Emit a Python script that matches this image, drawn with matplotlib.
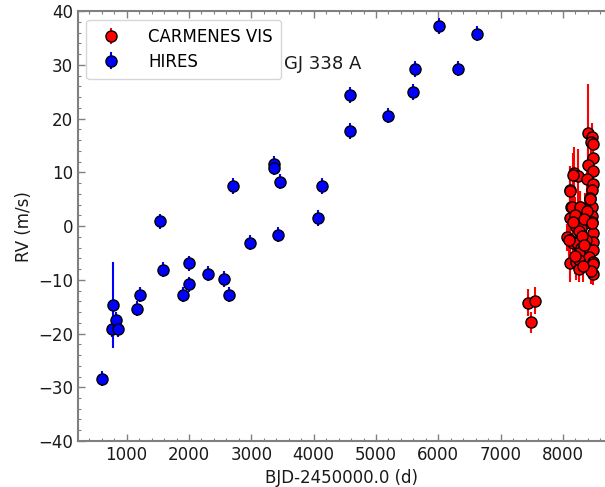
import numpy as np
import matplotlib
matplotlib.use('Agg')
import matplotlib.pyplot as plt
from matplotlib.ticker import AutoMinorLocator

# HIRES radial velocities
hires_t = [604, 764, 776, 835, 856, 1166, 1220, 1535, 1583, 1899, 2000, 2000,
           2306, 2562, 2649, 2701, 2979, 3356, 3356, 3420, 3468, 4071, 4131,
           4591, 4591, 5189, 5590, 5628, 6008, 6319, 6623]
hires_rv = [-28.4, -19.2, -14.6, -17.4, -19.2, -15.4, -12.8, 0.9, -8.1, -12.8,
            -6.9, -10.8, -8.9, -9.9, -12.8, 7.4, -3.1, 11.5, 10.9, -1.6, 8.3,
            1.5, 7.5, 24.4, 17.7, 20.5, 24.9, 29.2, 37.3, 29.3, 35.8]
hires_err = [1.4, 1.5, 8.0, 1.4, 1.4, 1.4, 1.4, 1.4, 1.4, 1.4,
             1.4, 1.4, 1.4, 1.5, 1.4, 1.5, 1.4, 1.5, 1.4, 1.4, 1.4,
             1.5, 1.5, 1.4, 1.4, 1.4, 1.5, 1.5, 1.5, 1.4, 1.4]

# CARMENES VIS radial velocities
carm_t = [7442, 7545, 7490,
          8395, 8459, 8448, 8475, 8475, 8405, 8475, 8175, 8245, 8380, 8486,
          8114, 8467, 8430, 8459, 8136, 8270, 8355, 8175, 8463, 8120, 8245,
          8459, 8350, 8210, 8285, 8250, 8475, 8070, 8120, 8165, 8230, 8486,
          8370, 8285, 8405, 8486, 8260, 8420, 8120, 8205, 8250, 8475, 8475,
          8250, 8486, 8444, 8165, 8110, 8430, 8150, 8280, 8380, 8200, 8340,
          8165, 8459, 8300, 8330, 8190, 8100, 8320]
carm_rv = [-14.3, -13.9, -17.9,
           17.4, 16.6, 15.7, 15.2, 12.7, 11.4, 10.3, 9.8, 9.4, 8.8, 7.8,
           6.7, 6.7, 5.3, 3.6, 3.6, 3.5, 3.1, 2.2, 1.9, 1.5, 0.8,
           0.8, 0.5, -0.1, -0.4, -0.9, -1.2, -2.1, -2.6, -3.2, -3.1, -2.9,
           -2.6, -4.0, -4.5, -4.5, -5.1, -5.7, -6.9, -6.6, -6.3, -6.6, -7.1,
           -8.0, -8.9, -8.3, 9.6, 6.6, 5.0, 3.5, 3.5, 2.9, 2.0, 1.4,
           0.8, 0.5, -1.8, -3.5, -5.5, -2.5, -7.5]
carm_err = [2.5, 2.5, 2.0,
            9.0, 2.5, 2.5, 2.0, 2.5, 3.0, 2.5, 5.0, 5.0, 3.0, 2.5,
            4.5, 2.5, 3.0, 2.5, 3.5, 3.0, 3.0, 3.5, 2.5, 4.0, 3.5,
            2.5, 3.0, 3.5, 3.0, 3.0, 2.5, 2.5, 3.5, 3.5, 3.0, 2.5,
            3.0, 3.0, 3.0, 2.5, 3.5, 3.0, 3.5, 3.5, 3.5, 2.5, 2.5,
            2.5, 2.0, 2.5, 4.0, 4.5, 3.0, 3.5, 3.0, 3.0, 3.5, 3.0,
            3.5, 2.5, 3.0, 3.0, 3.5, 3.5, 3.0]

plt.rcParams['font.size'] = 12
fig = plt.figure(figsize=(6.05, 4.87), dpi=100)
ax = fig.add_axes([0.129, 0.0945, 0.871, 0.8825])

ax.errorbar(carm_t, carm_rv, yerr=carm_err, fmt='o', color='red', ecolor='red',
            mec='black', mew=1.0, ms=8, elinewidth=1.5, capsize=0,
            label='CARMENES VIS')
ax.errorbar(hires_t, hires_rv, yerr=hires_err, fmt='o', color='blue', ecolor='blue',
            mec='black', mew=1.0, ms=8, elinewidth=1.5, capsize=0,
            label='HIRES')

ax.set_xlim(220, 8674)
ax.set_ylim(-40, 40)
ax.set_xticks(np.arange(1000, 8001, 1000))
ax.set_yticks(np.arange(-40, 41, 10))
ax.xaxis.set_minor_locator(AutoMinorLocator(5))
ax.yaxis.set_minor_locator(AutoMinorLocator(5))
ax.tick_params(which='both', direction='in', top=True, right=False, color='gray',
               labelcolor='#1a1a1a')
ax.tick_params(which='major', length=5, width=1)
ax.tick_params(which='minor', length=2.5, width=0.8)
for s in ax.spines.values():
    s.set_color('gray')
    s.set_linewidth(1.5)
ax.spines['right'].set_visible(False)

ax.set_xlabel('BJD-2450000.0 (d)', color='#1a1a1a')
ax.set_ylabel('RV (m/s)', color='#1a1a1a')
ax.text(0.39, 0.877, 'GJ 338 A', transform=ax.transAxes, ha='left', va='center',
        fontsize=13, color='#1a1a1a')
ax.legend(loc='upper left', fontsize=12, borderpad=0.5, handletextpad=1.2,
          labelspacing=0.4)

fig.savefig('out.png', dpi=100)
